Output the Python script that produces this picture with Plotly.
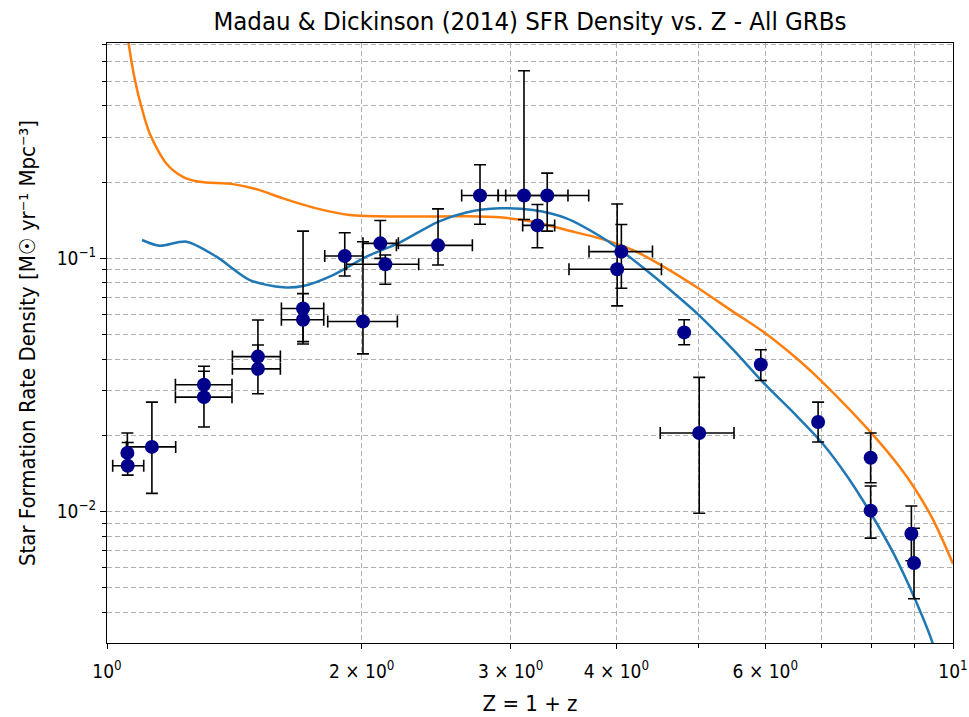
import numpy as np
import plotly.graph_objects as go

# ---- observed GRB-based SFR density points ----
z_obs   = [1.057, 1.058, 1.130, 1.302, 1.302, 1.508, 1.508, 1.705, 1.705, 1.910,
           2.007, 2.104, 2.133, 2.462, 2.760, 3.111, 3.314, 3.227, 4.055, 4.009,
           4.811, 5.012, 5.927, 6.927, 7.992, 7.992, 8.929, 8.993]
sfr_obs = [0.01706, 0.01517, 0.01801, 0.03168, 0.02831, 0.04093, 0.03662, 0.06335, 0.05721, 0.1021,
           0.05633, 0.1146, 0.0947, 0.1125, 0.1770, 0.1770, 0.1770, 0.1349, 0.1063, 0.0905,
           0.0510, 0.02044, 0.03807, 0.02258, 0.01631, 0.01009, 0.00818, 0.00627]
sfr_lo  = [0.0152, 0.01394, 0.01181, 0.0290, 0.02158, 0.0370, 0.02920, 0.04688, 0.04592, 0.0852,
           0.04194, 0.100, 0.0790, 0.0941, 0.1364, 0.1423, 0.1280, 0.1101, 0.0762, 0.0649,
           0.0456, 0.00986, 0.03294, 0.01884, 0.0130, 0.00786, 0.0064, 0.00453]
sfr_hi  = [0.02044, 0.01874, 0.02706, 0.03749, 0.03582, 0.05705, 0.0455, 0.1280, 0.07258, 0.1261,
           0.1162, 0.1410, 0.103, 0.1567, 0.2341, 0.5500, 0.2170, 0.1631, 0.1360, 0.1639,
           0.0572, 0.0339, 0.04359, 0.02706, 0.02044, 0.01262, 0.01053, 0.0086]
z_lo    = [1.057, 1.0156, 1.0542, 1.2047, 1.2047, 1.4068, 1.4068, 1.6075, 1.6075, 1.8087,
           1.8235, 2.007, 1.9187, 2.1982, 2.6257, 2.9006, 2.960, 3.100, 3.7131, 3.5162,
           4.811, 4.5078, 5.927, 6.927, 7.992, 7.992, 8.929, 8.993]
z_hi    = [1.057, 1.1051, 1.2056, 1.4052, 1.4052, 1.6030, 1.6030, 1.8038, 1.8038, 2.0070,
           2.2041, 2.210, 2.3357, 2.7032, 2.9006, 3.5066, 3.7101, 3.382, 4.4133, 4.5225,
           4.811, 5.5100, 5.927, 6.927, 7.992, 7.992, 8.929, 8.993]

# ---- fitted curve (blue) ----
fit_z   = [1.100, 1.154, 1.2415, 1.347, 1.4748, 1.6145, 1.705, 1.850, 2.026, 2.218,
           2.462, 2.660, 2.912, 3.188, 3.492, 3.823, 4.000, 4.381, 4.812, 5.004,
           5.5, 6.0, 6.5, 7.0, 7.5, 8.0, 8.5, 9.0, 9.46, 9.55]
fit_sfr = [0.1181, 0.1121, 0.1163, 0.1015, 0.0821, 0.0768, 0.0777, 0.0859, 0.1015, 0.1154,
           0.1394, 0.1518, 0.1575, 0.1551, 0.1438, 0.1225, 0.1108, 0.0875, 0.0672, 0.0598,
           0.0435, 0.0317, 0.0243, 0.0187, 0.01376, 0.00981, 0.00687, 0.00458, 0.00303, 0.0027]

# ---- Madau & Dickinson curve (orange) ----
md_z   = [1.058, 1.0734, 1.0930, 1.1232, 1.1752, 1.2295, 1.2866, 1.409, 1.515, 1.6145,
          1.768, 1.936, 2.218, 2.660, 2.912, 3.188, 3.492, 3.823, 4.185, 4.585,
          5.0, 5.495, 6.0, 6.589, 7.0, 8.0, 8.649, 9.0, 9.471, 10.0]
md_sfr = [0.7458, 0.5527, 0.4208, 0.3111, 0.2369, 0.2098, 0.2004, 0.1963, 0.1859, 0.1724,
          0.1575, 0.1482, 0.1462, 0.1465, 0.1451, 0.1394, 0.1293, 0.1199, 0.1078, 0.0913,
          0.0762, 0.0616, 0.0506, 0.0393, 0.0326, 0.0205, 0.0150, 0.01242, 0.0093, 0.00623]

x_tickvals = [1, 2, 3, 4, 6, 10]
x_ticktext = ["10<sup>0</sup>", "2 × 10<sup>0</sup>", "3 × 10<sup>0</sup>",
              "4 × 10<sup>0</sup>", "6 × 10<sup>0</sup>", "10<sup>1</sup>"]
x_minor = [5, 7, 8, 9]
y_tickvals = [0.01, 0.1]
y_ticktext = ["10<sup>−2</sup>", "10<sup>−1</sup>"]
y_minor = [m * 10.0 ** e for e in (-3, -2, -1) for m in range(2, 10)]

zo = np.array(z_obs); so = np.array(sfr_obs)

fig = go.Figure()
fig.add_trace(go.Scatter(x=md_z, y=md_sfr, mode="lines",
                         line=dict(color="#ff7f0e", width=2.5, shape="spline", smoothing=0.8),
                         name="Madau & Dickinson"))
fig.add_trace(go.Scatter(x=fit_z, y=fit_sfr, mode="lines",
                         line=dict(color="#1f77b4", width=2.5, shape="spline", smoothing=0.8),
                         name="fit"))
fig.add_trace(go.Scatter(
    x=z_obs, y=sfr_obs, mode="markers",
    marker=dict(color="#00008b", size=14),
    error_y=dict(type="data", symmetric=False,
                 array=np.array(sfr_hi) - so, arrayminus=so - np.array(sfr_lo),
                 color="black", thickness=1.6, width=6),
    error_x=dict(type="data", symmetric=False,
                 array=np.array(z_hi) - zo, arrayminus=zo - np.array(z_lo),
                 color="black", thickness=1.6, width=6),
    name="GRBs"))

font_family = "DejaVu Sans Condensed, Liberation Sans Narrow, DejaVu Sans"
grid = dict(showgrid=True, gridcolor="#b0b0b0", gridwidth=1, griddash="5px,3px")

fig.update_layout(
    width=969, height=717,
    margin=dict(l=107, r=16, t=43, b=74),
    paper_bgcolor="white", plot_bgcolor="white",
    showlegend=False,
    font=dict(family=font_family, size=19, color="black"),
    title=dict(text="Madau & Dickinson (2014) SFR Density vs. Z - All GRBs",
               x=(107 + 953) / 2 / 969, xanchor="center", y=0.970, yanchor="middle",
               font=dict(size=25.5, family=font_family)),
    xaxis=dict(type="log", range=[0, 1], tickvals=x_tickvals, ticktext=x_ticktext,
               ticks="outside", ticklen=5, tickcolor="black", tickwidth=1,
               ticklabelstandoff=6,
               showline=True, mirror=True, linecolor="black", linewidth=1.3,
               zeroline=False, automargin=False, **grid,
               minor=dict(tickvals=x_minor, ticks="outside", ticklen=4, tickcolor="black",
                          showgrid=True, gridcolor="#b0b0b0", griddash="5px,3px"),
               title=dict(text="Z = 1 + z", font=dict(size=22), standoff=14),
               tickfont=dict(size=19)),
    yaxis=dict(type="log", range=[np.log10(0.00303), np.log10(0.708)],
               tickvals=y_tickvals, ticktext=y_ticktext,
               ticks="outside", ticklen=6, tickcolor="black", tickwidth=1,
               showline=True, mirror=True, linecolor="black", linewidth=1.3,
               zeroline=False, automargin=False, **grid,
               minor=dict(tickvals=y_minor, ticks="outside", ticklen=4, tickcolor="black",
                          showgrid=True, gridcolor="#b0b0b0", griddash="5px,3px"),
               title=dict(text="Star Formation Rate Density [M☉ yr⁻¹ Mpc⁻³]",
                          font=dict(size=22), standoff=14),
               tickfont=dict(size=19)),
)

fig.write_html("out.html")
